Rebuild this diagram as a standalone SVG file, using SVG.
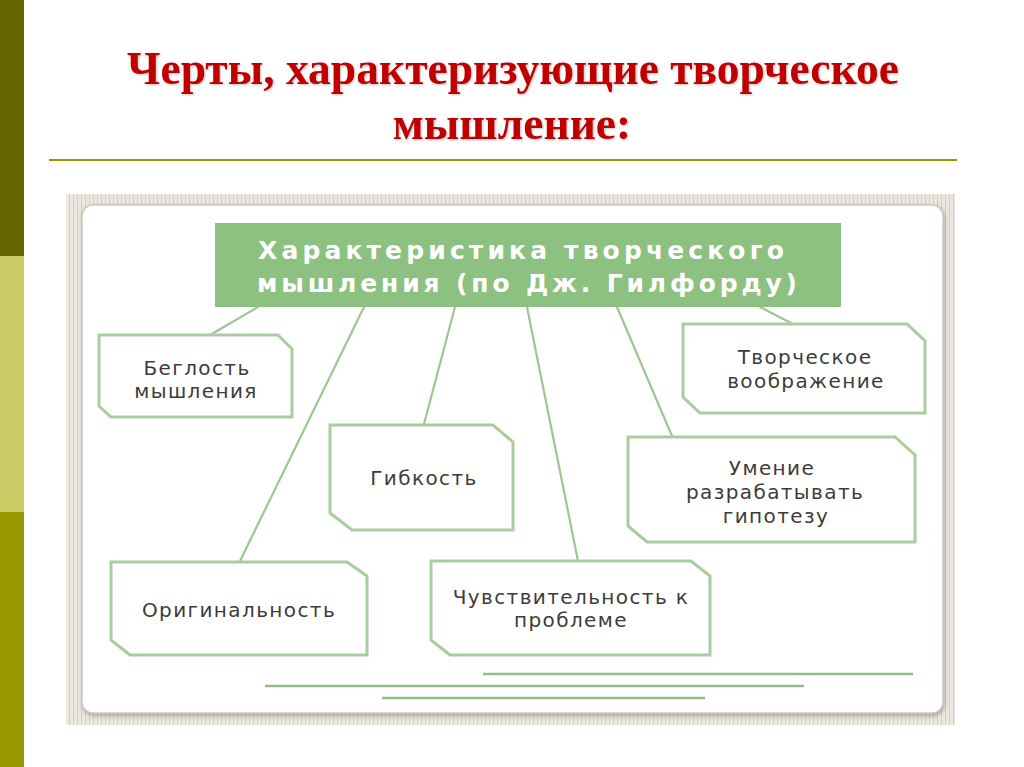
<svg xmlns="http://www.w3.org/2000/svg" width="1024" height="767" viewBox="0 0 1024 767">
  <defs>
    <pattern id="stripes" width="4" height="6" patternUnits="userSpaceOnUse">
      <rect width="4" height="6" fill="#ece8e0"/>
      <rect x="1" width="1" height="6" fill="#d5cfc3"/>
    </pattern>
    <filter id="cardShadow" x="-5%" y="-5%" width="110%" height="110%">
      <feDropShadow dx="1" dy="2" stdDeviation="2" flood-color="#7a7670" flood-opacity="0.6"/>
    </filter>
    <filter id="titleShadow" x="-5%" y="-20%" width="110%" height="140%">
      <feDropShadow dx="1" dy="1" stdDeviation="0.8" flood-color="#000" flood-opacity="0.25"/>
    </filter>
  </defs>
  <style>
    .title { font-family: "Liberation Serif", "Times New Roman", serif; font-weight: bold; font-size: 45.5px; fill: #c00000; text-anchor: middle; }
    .head { font-family: "DejaVu Sans", "Verdana", sans-serif; font-weight: bold; font-size: 25px; fill: #ffffff; }
    .node { fill: #ffffff; stroke: #a9cd9f; stroke-width: 3; stroke-linejoin: miter; }
    .lbl { font-family: "DejaVu Sans", "Verdana", sans-serif; font-size: 20px; letter-spacing: 1.4px; fill: #3c3c3c; text-anchor: middle; }
    .conn line { stroke: #9dc693; stroke-width: 2.2; stroke-linecap: round; }
    .deco line { stroke: #93bf88; stroke-width: 2.5; }
  </style>

  <rect width="1024" height="767" fill="#ffffff"/>

  <!-- left sidebar -->
  <g id="sidebar">
    <rect x="0" y="0" width="24" height="256" fill="#666600"/>
    <rect x="0" y="256" width="24" height="256" fill="#cccc66"/>
    <rect x="0" y="512" width="24" height="255" fill="#999900"/>
  </g>

  <!-- title -->
  <g id="title" filter="url(#titleShadow)">
    <text class="title" x="513" y="84">Черты, характеризующие творческое</text>
    <text class="title" x="512" y="139">мышление:</text>
  </g>
  <line x1="49" y1="160" x2="957" y2="160" stroke="#999900" stroke-width="2"/>

  <!-- picture frame -->
  <g id="frame">
    <rect x="66" y="194" width="889" height="531" fill="url(#stripes)"/>
    <rect x="82" y="205" width="861" height="508" rx="11" fill="#ffffff" stroke="#cfcac1" stroke-width="1.5" filter="url(#cardShadow)"/>
  </g>

  <!-- connectors -->
  <g id="connectors" class="conn">
    <line x1="258" y1="307" x2="210" y2="335"/>
    <line x1="364" y1="307" x2="240" y2="561"/>
    <line x1="455" y1="307" x2="424" y2="424"/>
    <line x1="527" y1="307" x2="578" y2="561"/>
    <line x1="617" y1="307" x2="672" y2="436"/>
    <line x1="760" y1="307" x2="791" y2="323"/>
  </g>

  <!-- header node -->
  <g id="header">
    <rect x="215" y="223" width="626" height="84" fill="#8cc181"/>
    <text class="head" x="258" y="259" textLength="526" lengthAdjust="spacing">Характеристика творческого</text>
    <text class="head" x="257" y="292" textLength="540" lengthAdjust="spacing">мышления (по Дж. Гилфорду)</text>
  </g>

  <g id="node-fluency">
    <polygon class="node" points="99,335 278,335 292,349 292,417 111,417 99,406"/>
    <text class="lbl" x="197" y="375">Беглость</text>
    <text class="lbl" x="196" y="398">мышления</text>
  </g>

  <g id="node-imagination">
    <polygon class="node" points="683,324 907,324 925,341 925,413 700,413 683,397"/>
    <text class="lbl" x="805" y="364">Творческое</text>
    <text class="lbl" x="806" y="388">воображение</text>
  </g>

  <g id="node-flexibility">
    <polygon class="node" points="330,425 493,425 513,442 513,530 352,530 330,513"/>
    <text class="lbl" x="424" y="485">Гибкость</text>
  </g>

  <g id="node-hypothesis">
    <polygon class="node" points="628,437 895,437 915,455 915,542 647,542 628,526"/>
    <text class="lbl" x="772" y="475">Умение</text>
    <text class="lbl" x="775" y="499">разрабатывать</text>
    <text class="lbl" x="776" y="523">гипотезу</text>
  </g>

  <g id="node-originality">
    <polygon class="node" points="111,562 347,562 367,576 367,655 130,655 111,640"/>
    <text class="lbl" x="239" y="617">Оригинальность</text>
  </g>

  <g id="node-sensitivity">
    <polygon class="node" points="431,561 691,561 710,576 710,655 450,655 431,640"/>
    <text class="lbl" x="571" y="604">Чувствительность к</text>
    <text class="lbl" x="571" y="627">проблеме</text>
  </g>

  <!-- decorative lines -->
  <g id="deco-lines" class="deco">
    <line x1="483" y1="674" x2="913" y2="674"/>
    <line x1="265" y1="686" x2="804" y2="686"/>
    <line x1="382" y1="698" x2="705" y2="698"/>
  </g>
</svg>
